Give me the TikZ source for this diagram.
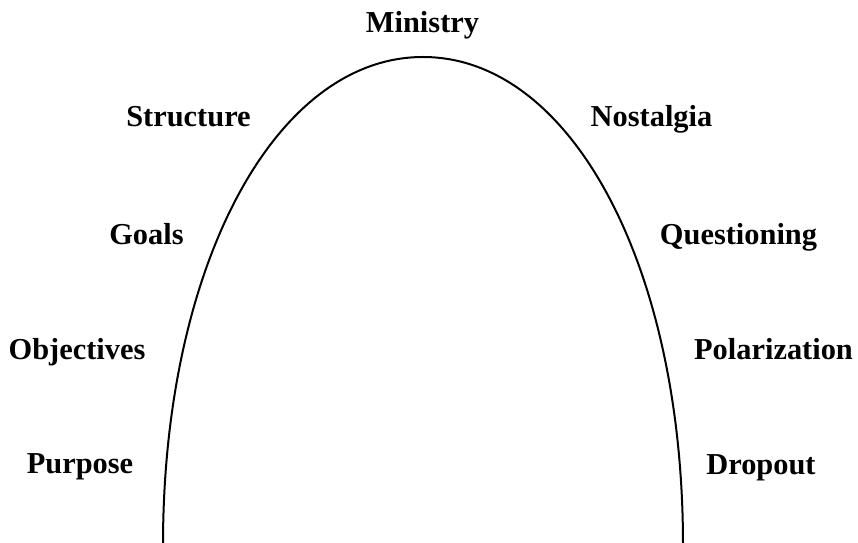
\documentclass[tikz,border=0pt]{standalone}
\usepackage{fontspec}
\setmainfont{Liberation Serif}
\begin{document}
\begin{tikzpicture}[x=0.75pt, y=0.75pt, line width=1.5pt,
  lbl/.style={anchor=base, inner sep=0pt, font=\fontsize{22.8}{26}\selectfont\bfseries}]
  \useasboundingbox (0,0) rectangle (858,543);

  % arch
  \coordinate (footL) at (163,-2);
  \coordinate (apex) at (423,486);
  \coordinate (footR) at (683,-2);
  \draw (footL) .. controls (163,277) and (275,486) .. (apex)
        .. controls (571,486) and (683,277) .. (footR);

  % top
  \node[lbl] (ministry) at (422.5,510) {Ministry};

  % left side
  \node[lbl] (structure) at (188.5,416) {Structure};
  \node[lbl] (goals) at (146.5,298) {Goals};
  \node[lbl] (objectives) at (77,183) {Objectives};
  \node[lbl] (purpose) at (80,69) {Purpose};

  % right side
  \node[lbl] (nostalgia) at (651.5,416) {Nostalgia};
  \node[lbl] (questioning) at (738.5,298) {Questioning};
  \node[lbl] (polarization) at (773.5,183) {Polarization};
  \node[lbl] (dropout) at (761,68) {Dropout};
\end{tikzpicture}
\end{document}
